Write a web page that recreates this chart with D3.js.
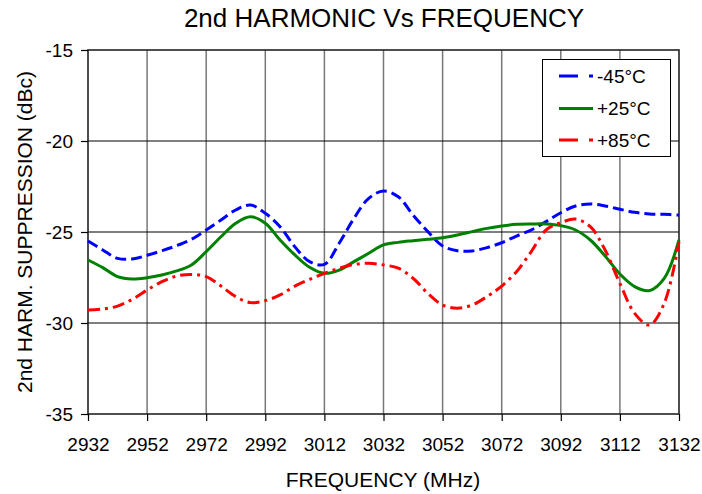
<!DOCTYPE html>
<html><head><meta charset="utf-8">
<script src="https://cdn.jsdelivr.net/npm/d3@7"></script>
<style>body{margin:0;background:#fff}svg{display:block}text{font-family:"Liberation Sans",Arial,Helvetica,sans-serif;fill:#000}</style>
</head><body>
<script>
const freqs = [2932,2937,2942,2947,2952,2957,2962,2967,2972,2977,2982,2987,2992,2997,3002,3007,3012,3017,3022,3027,3032,3037,3042,3047,3052,3057,3062,3067,3072,3077,3082,3087,3092,3097,3102,3107,3112,3117,3122,3127,3132];
const minus45 = [-25.49,-25.99,-26.45,-26.48,-26.28,-26.03,-25.75,-25.40,-24.89,-24.34,-23.79,-23.52,-23.97,-24.71,-25.81,-26.63,-26.78,-25.62,-24.25,-23.15,-22.75,-23.06,-24.07,-24.98,-25.77,-26.03,-26.04,-25.86,-25.59,-25.22,-24.89,-24.43,-23.94,-23.57,-23.46,-23.57,-23.75,-23.92,-24.01,-24.03,-24.07];
const plus25 = [-26.54,-26.96,-27.45,-27.58,-27.51,-27.36,-27.14,-26.81,-26.08,-25.26,-24.52,-24.16,-24.52,-25.44,-26.26,-26.94,-27.27,-27.09,-26.63,-26.17,-25.71,-25.57,-25.48,-25.40,-25.31,-25.16,-24.98,-24.80,-24.67,-24.58,-24.56,-24.56,-24.65,-24.89,-25.44,-26.32,-27.31,-28.00,-28.22,-27.55,-25.44];
const plus85 = [-29.29,-29.23,-29.07,-28.70,-28.19,-27.73,-27.42,-27.33,-27.45,-27.97,-28.55,-28.88,-28.77,-28.46,-27.97,-27.60,-27.27,-27.00,-26.78,-26.72,-26.81,-26.99,-27.54,-28.37,-29.01,-29.19,-29.01,-28.55,-27.97,-27.18,-26.08,-24.89,-24.49,-24.29,-24.71,-25.99,-27.82,-29.47,-30.11,-28.92,-25.53];
const seriesNames = ["-45°C","+25°C","+85°C"];
const xTicks = [2932,2952,2972,2992,3012,3032,3052,3072,3092,3112,3132];
const yTicks = [-35,-30,-25,-20,-15];

const W=702,H=494;
const m={l:88,r:23,t:50,b:80};
const svg=d3.select("body").append("svg").attr("width",W).attr("height",H);
const x=d3.scaleLinear().domain([2932,3132]).range([m.l,W-m.r]);
const y=d3.scaleLinear().domain([-35,-15]).range([H-m.b,m.t]);

// vertical gridlines
svg.append("g").selectAll("line").data(xTicks.slice(1,-1)).join("line")
  .attr("x1",d=>x(d)).attr("x2",d=>x(d)).attr("y1",y(-15)).attr("y2",y(-35))
  .attr("stroke","#777").attr("stroke-width",1.5);
// horizontal gridlines
svg.append("g").selectAll("line").data(yTicks.slice(1,-1)).join("line")
  .attr("x1",x(2932)).attr("x2",x(3132)).attr("y1",d=>y(d)).attr("y2",d=>y(d))
  .attr("stroke","#000").attr("stroke-width",1.2);
// frame
svg.append("rect").attr("x",x(2932)).attr("y",y(-15)).attr("width",x(3132)-x(2932)).attr("height",y(-35)-y(-15))
  .attr("fill","none").attr("stroke","#222").attr("stroke-width",1.6);

// axes
const xAxis=svg.append("g").attr("transform",`translate(0,${y(-35)})`)
  .call(d3.axisBottom(x).tickValues(xTicks).tickFormat(d3.format("d")).tickSize(7).tickPadding(17));
const yAxis=svg.append("g").attr("transform",`translate(${x(2932)},0)`)
  .call(d3.axisLeft(y).tickValues(yTicks).tickFormat(d=>d).tickSize(7).tickPadding(8));
[xAxis,yAxis].forEach(a=>{a.select(".domain").remove();a.selectAll("line").attr("stroke","#000").attr("stroke-width",1.2);a.selectAll("text").style("font-size","19px").attr("fill","#000");});
yAxis.selectAll("text").attr("dy","0.35em");
xAxis.selectAll("text").attr("dy","0.71em");

const series=[
  {name:seriesNames[0],vals:minus45,color:"#0000ff",dash:"11,5"},
  {name:seriesNames[1],vals:plus25,color:"#008000",dash:null},
  {name:seriesNames[2],vals:plus85,color:"#ff0000",dash:"12,5,3,5"}
];
const line=d3.line().x((d,i)=>x(freqs[i])).y(d=>y(d)).curve(d3.curveCatmullRom.alpha(0.5));
svg.append("g").selectAll("path").data(series).join("path")
  .attr("d",d=>line(d.vals)).attr("fill","none").attr("stroke",d=>d.color)
  .attr("stroke-width",3).attr("stroke-dasharray",d=>d.dash);

// legend
const lg=svg.append("g");
lg.append("rect").attr("x",542.5).attr("y",59.5).attr("width",128).attr("height",97)
  .attr("fill","#fff").attr("stroke","#000").attr("stroke-width",1);
const rows=[76,108.5,140];
series.forEach((s,i)=>{
  lg.append("line").attr("x1",559).attr("x2",593).attr("y1",rows[i]).attr("y2",rows[i])
    .attr("stroke",s.color).attr("stroke-width",3).attr("stroke-dasharray",s.dash?"19,11":null);
  lg.append("text").attr("x",597).attr("y",rows[i]).attr("dy","0.35em").style("font-size","19px").text(s.name);
});

// titles
svg.append("text").attr("x",384).attr("y",27).attr("text-anchor","middle").style("font-size","26px").text("2nd HARMONIC Vs FREQUENCY");
svg.append("text").attr("x",383).attr("y",487).attr("text-anchor","middle").style("font-size","21px").text("FREQUENCY (MHz)");
svg.append("text").attr("transform","translate(32,232) rotate(-90)").attr("text-anchor","middle").style("font-size","21px").text("2nd HARM. SUPPRESSION (dBc)");
</script>
</body></html>
